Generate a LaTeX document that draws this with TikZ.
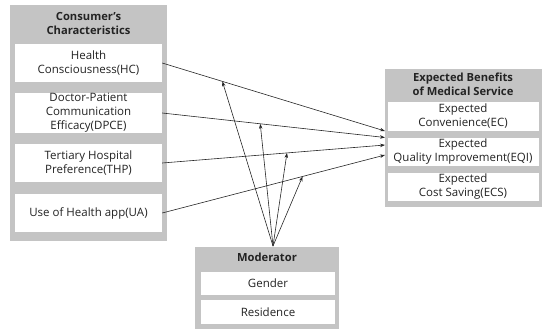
\documentclass[tikz,border=0pt]{standalone}
\usepackage{fontspec}
\setmainfont{Open Sans}
\usetikzlibrary{arrows.meta,calc}
\definecolor{grp}{RGB}{196,196,196}
\definecolor{txt}{RGB}{35,35,35}
\begin{document}
\begin{tikzpicture}[x=1pt,y=-1pt,
  grpbox/.style={fill=grp,draw=none,inner sep=0pt,anchor=north west},
  itembox/.style={fill=white,draw=none,inner sep=0pt,align=center,text=txt,font=\fontsize{11.5}{14}\selectfont},
  grptitle/.style={align=center,text=txt,font=\fontsize{11.2}{14}\selectfont\bfseries,inner sep=0pt},
  link/.style={draw=black!85,line width=0.6pt,-{Stealth[length=5pt,width=3.5pt]}}]
\useasboundingbox (0,0) rectangle (543,330);
% left group
\node[grpbox,minimum width=157pt,minimum height=236pt] (cc) at (10,5) {};
\node[grptitle] (cct) at (88.5,23.5) {Consumer's\\Characteristics};
\node[itembox,minimum width=147pt,minimum height=38pt] (hc) at (88.5,63) {Health\\Consciousness(HC)};
\node[itembox,minimum width=147pt,minimum height=38pt] (dpce) at (88.5,113) {Doctor-Patient\\Communication\\Efficacy(DPCE)};
\node[itembox,minimum width=147pt,minimum height=38pt] (thp) at (88.5,163) {Tertiary Hospital\\Preference(THP)};
\node[itembox,minimum width=147pt,minimum height=38pt] (ua) at (88.5,213) {Use of Health app(UA)};
% right group
\node[grpbox,minimum width=157pt,minimum height=138pt] (eb) at (385,69) {};
\node[grptitle] (ebt) at (463,84) {Expected Benefits\\of Medical Service};
\node[itembox,minimum width=151pt,minimum height=29pt] (ec) at (463,116.5) {Expected\\Convenience(EC)};
\node[itembox,minimum width=151pt,minimum height=28pt] (eqi) at (463,152) {Expected\\Quality Improvement(EQI)};
\node[itembox,minimum width=151pt,minimum height=28pt] (ecs) at (463,187) {Expected\\Cost Saving(ECS)};
% moderator
\node[grpbox,minimum width=144pt,minimum height=82pt] (mod) at (195,247) {};
\node[grptitle] (modt) at (267,257) {Moderator};
\node[itembox,minimum width=134pt,minimum height=23pt] (gen) at (268,283.5) {Gender};
\node[itembox,minimum width=134pt,minimum height=24pt] (res) at (268,312) {Residence};
% connectors
\coordinate (e1) at (385,131);
\coordinate (e2) at (385,137.5);
\coordinate (e3) at (385,145);
\coordinate (e4) at (385,155);
\coordinate (m) at (273,246);
\draw[link] (hc.east) -- (e1);
\draw[link] (dpce.east) -- (e2);
\draw[link] (thp.east) -- (e3);
\draw[link] (ua.east) -- (e4);
\draw[link] (m) -- ($(hc.east)!0.27!(e1)$);
\draw[link] (m) -- ($(dpce.east)!0.44!(e2)$);
\draw[link] (m) -- ($(thp.east)!0.56!(e3)$);
\draw[link] (m) -- ($(ua.east)!0.63!(e4)$);
\end{tikzpicture}
\end{document}
